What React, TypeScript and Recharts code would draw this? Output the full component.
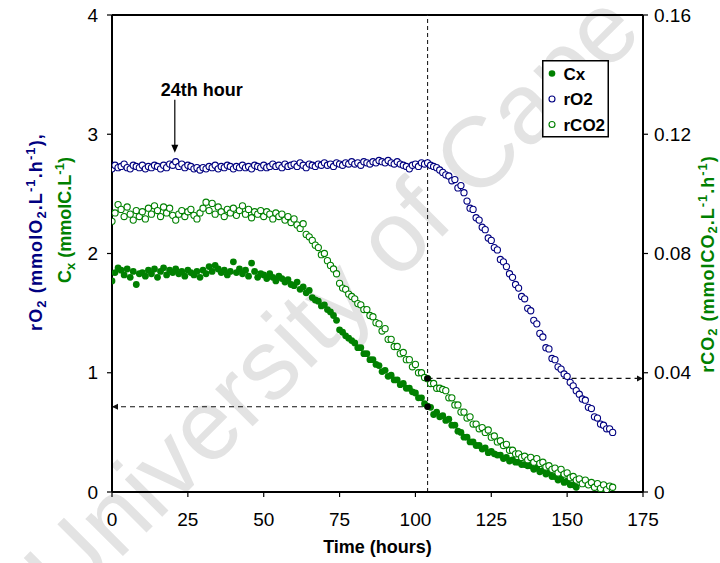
import React from 'react';
import { ScatterChart, Scatter, XAxis, YAxis, ReferenceLine, ReferenceDot, Legend } from 'recharts';

const FONT = "'Liberation Sans', Arial, sans-serif";
const GREEN = '#008000';
const NAVY = '#000080';

// sampling times (hours)
const hours = [
  0, 1, 2, 3, 4, 5, 6, 7, 8, 9, 10, 11, 12, 13, 14, 15, 16, 17, 18, 19,
  20, 21, 22, 23, 24, 25, 26, 27, 28, 29, 30, 31, 32, 33, 34, 35, 36, 37, 38, 39,
  40, 41, 42, 43, 44, 45, 46, 47, 48, 49, 50, 51, 52, 53, 54, 55, 56, 57, 58, 59,
  60, 61, 62, 63, 64, 65, 66, 67, 68, 69, 70, 71, 72, 73, 74, 75, 76, 77, 78, 79,
  80, 81, 82, 83, 84, 85, 86, 87, 88, 89, 90, 91, 92, 93, 94, 95, 96, 97, 98, 99,
  100, 101, 102, 103, 104, 105, 106, 107, 108, 109, 110, 111, 112, 113, 114, 115, 116, 117, 118, 119,
  120, 121, 122, 123, 124, 125, 126, 127, 128, 129, 130, 131, 132, 133, 134, 135, 136, 137, 138, 139,
  140, 141, 142, 143, 144, 145, 146, 147, 148, 149, 150, 151, 152, 153, 154, 155, 156, 157, 158, 159,
  160, 161, 162, 163, 164, 165,
];

// rO2 (mmolO2.L-1.h-1), left axis
const rO2 = [
  2.71, 2.74, 2.72, 2.73, 2.75, 2.72, 2.71, 2.74, 2.73, 2.72,
  2.74, 2.71, 2.73, 2.72, 2.74, 2.73, 2.71, 2.74, 2.72, 2.75,
  2.74, 2.77, 2.73, 2.75, 2.72, 2.74, 2.73, 2.71, 2.72, 2.70,
  2.72, 2.71, 2.73, 2.72, 2.74, 2.71, 2.73, 2.72, 2.74, 2.73,
  2.71, 2.73, 2.72, 2.74, 2.72, 2.73, 2.71, 2.74, 2.73, 2.72,
  2.74, 2.72, 2.73, 2.75, 2.73, 2.74, 2.72, 2.75, 2.73, 2.74,
  2.75, 2.73, 2.76, 2.74, 2.72, 2.75, 2.74, 2.73, 2.75, 2.74,
  2.76, 2.74, 2.75, 2.73, 2.76, 2.75, 2.74, 2.76, 2.75, 2.77,
  2.75, 2.76, 2.74, 2.77, 2.76, 2.75, 2.77, 2.76, 2.78, 2.77,
  2.76, 2.78, 2.76, 2.75, 2.77, 2.75, 2.74, 2.73, 2.71, 2.74,
  2.75, 2.73, 2.76, 2.75, 2.76, 2.74, 2.73, 2.72, 2.70, 2.68,
  2.66, 2.65, 2.61, 2.62, 2.55, 2.57, 2.51, 2.44, 2.38, 2.37,
  2.30, 2.28, 2.22, 2.20, 2.13, 2.11, 2.05, 2.03, 1.95, 1.93,
  1.89, 1.83, 1.80, 1.74, 1.71, 1.64, 1.62, 1.54, 1.52, 1.44,
  1.41, 1.33, 1.30, 1.21, 1.20, 1.12, 1.11, 1.05, 1.03, 0.99,
  0.97, 0.92, 0.89, 0.85, 0.82, 0.78, 0.77, 0.71, 0.70, 0.63,
  0.62, 0.57, 0.56, 0.53, 0.53, 0.50,
];

// Cx (mmolC.L-1), left axis, hours 0..153
const cx = [
  1.77, 1.84, 1.88, 1.86, 1.82, 1.87, 1.80, 1.85, 1.74, 1.83,
  1.84, 1.81, 1.86, 1.83, 1.87, 1.80, 1.85, 1.88, 1.82, 1.86,
  1.84, 1.87, 1.83, 1.85, 1.81, 1.86, 1.84, 1.82, 1.85, 1.80,
  1.86, 1.83, 1.89, 1.85, 1.90, 1.87, 1.84, 1.86, 1.82, 1.85,
  1.93, 1.84, 1.87, 1.83, 1.86, 1.81, 1.92, 1.85, 1.80, 1.83,
  1.82, 1.79, 1.83, 1.80, 1.77, 1.81, 1.79, 1.76, 1.78, 1.74,
  1.73, 1.76, 1.70, 1.72, 1.67, 1.69, 1.63, 1.61, 1.60, 1.56,
  1.57, 1.53, 1.51, 1.48, 1.44, 1.36, 1.34, 1.31, 1.29, 1.27,
  1.25, 1.21, 1.21, 1.16, 1.16, 1.11, 1.11, 1.07, 1.06, 1.01,
  1.02, 0.97, 0.98, 0.94, 0.94, 0.90, 0.91, 0.87, 0.87, 0.84,
  0.83, 0.79, 0.79, 0.74, 0.72, 0.71, 0.65, 0.67, 0.63, 0.64,
  0.60, 0.61, 0.56, 0.56, 0.51, 0.50, 0.46, 0.46, 0.42, 0.42,
  0.39, 0.39, 0.36, 0.37, 0.33, 0.34, 0.32, 0.31, 0.31, 0.28,
  0.29, 0.26, 0.27, 0.25, 0.25, 0.23, 0.23, 0.22, 0.22, 0.19,
  0.20, 0.17, 0.18, 0.15, 0.16, 0.13, 0.13, 0.10, 0.11, 0.08,
  0.09, 0.06, 0.06, 0.04,
];

// rCO2 (mmolCO2.L-1.h-1), right axis
const rCO2 = [
  0.0908, 0.0936, 0.0964, 0.0948, 0.0924, 0.0956, 0.0932, 0.0912, 0.0944, 0.0924,
  0.0940, 0.0916, 0.0952, 0.0932, 0.0960, 0.0944, 0.0924, 0.0956, 0.0936, 0.0952,
  0.0928, 0.0912, 0.0932, 0.0944, 0.0924, 0.0940, 0.0948, 0.0928, 0.0916, 0.0936,
  0.0952, 0.0972, 0.0944, 0.0968, 0.0932, 0.0956, 0.0940, 0.0924, 0.0948, 0.0936,
  0.0952, 0.0928, 0.0944, 0.0960, 0.0932, 0.0948, 0.0920, 0.0940, 0.0932, 0.0944,
  0.0924, 0.0940, 0.0932, 0.0916, 0.0936, 0.0924, 0.0932, 0.0912, 0.0924, 0.0904,
  0.0916, 0.0896, 0.0884, 0.0900, 0.0864, 0.0856, 0.0844, 0.0828, 0.0820, 0.0796,
  0.0800, 0.0776, 0.0760, 0.0748, 0.0732, 0.0700, 0.0684, 0.0680, 0.0664, 0.0656,
  0.0648, 0.0632, 0.0628, 0.0612, 0.0612, 0.0592, 0.0588, 0.0568, 0.0564, 0.0540,
  0.0548, 0.0512, 0.0512, 0.0488, 0.0488, 0.0464, 0.0468, 0.0444, 0.0444, 0.0420,
  0.0428, 0.0400, 0.0400, 0.0384, 0.0380, 0.0364, 0.0364, 0.0348, 0.0348, 0.0344,
  0.0340, 0.0316, 0.0316, 0.0292, 0.0292, 0.0268, 0.0268, 0.0248, 0.0252, 0.0228,
  0.0228, 0.0212, 0.0216, 0.0200, 0.0208, 0.0184, 0.0188, 0.0168, 0.0172, 0.0156,
  0.0160, 0.0140, 0.0140, 0.0128, 0.0128, 0.0116, 0.0120, 0.0108, 0.0116, 0.0100,
  0.0112, 0.0096, 0.0100, 0.0084, 0.0088, 0.0076, 0.0080, 0.0064, 0.0076, 0.0060,
  0.0064, 0.0048, 0.0052, 0.0040, 0.0044, 0.0028, 0.0040, 0.0024, 0.0032, 0.0016,
  0.0028, 0.0012, 0.0024, 0.0008, 0.0020, 0.0016,
];

const xTicks = [0, 25, 50, 75, 100, 125, 150, 175];
const leftTicks = [0, 1, 2, 3, 4];
const rightTicks = [0, 0.04, 0.08, 0.12, 0.16];

// annotation values
const markHour = 104;
const cxAtMark = 0.715;
const rco2AtMark = 0.0381;
const arrowHour = 20.7;
const arrowTop = 3.29;
const arrowBottom = 2.845;

const legendItems = [
  { name: 'Cx', color: GREEN, filled: true },
  { name: 'rO2', color: NAVY, filled: false },
  { name: 'rCO2', color: GREEN, filled: false },
];

const cxData = cx.map((v, i) => ({ x: hours[i], y: v }));
const rO2Data = rO2.map((v, i) => ({ x: hours[i], y: v }));
const rCO2Data = rCO2.map((v, i) => ({ x: hours[i], y: v }));

const filledDot = (color: string) => (p: any) => (
  <circle cx={p.cx} cy={p.cy} r={3.4} fill={color} stroke="none" />
);
const openDot = (color: string) => (p: any) => (
  <circle cx={p.cx} cy={p.cy} r={3.1} fill="#fff" stroke={color} strokeWidth={1.1} />
);

const DashArrow = (dir: 'start' | 'end') => (p: any) => {
  const { x1, y1, x2, y2 } = p;
  const tipX = dir === 'start' ? Math.min(x1, x2) : Math.max(x1, x2);
  const s = dir === 'start' ? 1 : -1;
  return (
    <g>
      <line x1={x1} y1={y1} x2={x2} y2={y2} stroke="#111" strokeWidth={1.1} strokeDasharray="5 4" />
      <polygon
        points={`${tipX},${y1} ${tipX + s * 6},${y1 - 3} ${tipX + s * 6},${y1 + 3}`}
        fill="#111"
      />
    </g>
  );
};

const HourArrow = (p: any) => {
  const { x1, y1, x2, y2 } = p;
  const top = Math.min(y1, y2);
  const bot = Math.max(y1, y2);
  return (
    <g>
      <line x1={x1} y1={top} x2={x2} y2={bot - 6} stroke="#000" strokeWidth={1.2} />
      <polygon points={`${x1},${bot} ${x1 - 3.5},${bot - 8} ${x1 + 3.5},${bot - 8}`} fill="#000" />
      <text x={x1 - 14} y={top - 4} fontFamily={FONT} fontSize={18} fontWeight="bold" fill="#000">
        24th hour
      </text>
    </g>
  );
};

const LeftTitle = (props: any) => {
  const vb = props.viewBox || { x: 0, y: 15 };
  const ax = vb.x + 41.5;
  const ay = 232;
  const bx = vb.x + 71;
  const by = 220;
  return (
    <g fontFamily={FONT} fontWeight="bold" fontSize={18}>
      <text
        transform={`rotate(-90 ${ax} ${ay})`}
        x={ax}
        y={ay}
        textAnchor="middle"
        fill={NAVY}
        letterSpacing={1.1}
      >
        rO<tspan fontSize={13} dy={4}>2</tspan>
        <tspan dy={-4}> (mmolO</tspan>
        <tspan fontSize={13} dy={4}>2</tspan>
        <tspan dy={-4}>.L</tspan>
        <tspan fontSize={13} dy={-7}>-1</tspan>
        <tspan dy={7}>.h</tspan>
        <tspan fontSize={13} dy={-7}>-1</tspan>
        <tspan dy={7}>),</tspan>
      </text>
      <text transform={`rotate(-90 ${bx} ${by})`} x={bx} y={by} textAnchor="middle" fill={GREEN}>
        C<tspan fontSize={13} dy={4}>x</tspan>
        <tspan dy={-4}> (mmolC.L</tspan>
        <tspan fontSize={13} dy={-7}>-1</tspan>
        <tspan dy={7}>)</tspan>
      </text>
    </g>
  );
};

const RightTitle = (props: any) => {
  const vb = props.viewBox || { x: 643 };
  const ax = vb.x + 71;
  const ay = 264;
  return (
    <text
      transform={`rotate(-90 ${ax} ${ay})`}
      x={ax}
      y={ay}
      textAnchor="middle"
      fill={GREEN}
      fontFamily={FONT}
      fontWeight="bold"
      fontSize={18}
      letterSpacing={1}
    >
      rCO<tspan fontSize={13} dy={3}>2</tspan>
      <tspan dy={-3}> (mmolCO</tspan>
      <tspan fontSize={13} dy={3}>2</tspan>
      <tspan dy={-3}>.L</tspan>
      <tspan fontSize={13} dy={-7}>-1</tspan>
      <tspan dy={7}>.h</tspan>
      <tspan fontSize={13} dy={-7}>-1</tspan>
      <tspan dy={7}>)</tspan>
    </text>
  );
};

const BottomTitle = (props: any) => {
  const vb = props.viewBox || { x: 112, y: 492, width: 531 };
  return (
    <text
      x={vb.x + vb.width / 2}
      y={vb.y + 61}
      textAnchor="middle"
      fontFamily={FONT}
      fontWeight="bold"
      fontSize={18}
      fill="#000"
    >
      Time (hours)
    </text>
  );
};

const renderLegend = () => (
  <svg width={67} height={78} style={{ display: 'block' }}>
    <rect x={0.75} y={0.75} width={65.5} height={76} fill="#fff" stroke="#000" strokeWidth={1.5} />
    {legendItems.map((it, i) => {
      const cy = 13.5 + i * 25.5;
      return (
        <g key={it.name}>
          {it.filled ? (
            <circle cx={10} cy={cy} r={3.3} fill={it.color} />
          ) : (
            <circle cx={10} cy={cy} r={3} fill="#fff" stroke={it.color} strokeWidth={1.1} />
          )}
          <text x={21.5} y={cy + 6.2} fontFamily={FONT} fontWeight="bold" fontSize={17} fill="#000">
            {it.name}
          </text>
        </g>
      );
    })}
  </svg>
);

const tickStyle = { fill: '#000', fontSize: 19, fontFamily: FONT };

export default function App() {
  return (
    <div style={{ position: 'absolute', left: 0, top: 0, width: 720, height: 563, background: '#fff', overflow: 'hidden' }}>
      <svg
        width={720}
        height={563}
        style={{ position: 'absolute', left: 0, top: 0, zIndex: 0 }}
      >
        <text
          x={67}
          y={612}
          transform="rotate(-45 67 612)"
          fontFamily={FONT}
          fontSize={100}
          fill="#e3e3e3"
        >
          University of Cape Town
        </text>
      </svg>
      <div style={{ position: 'absolute', left: 0, top: 0, zIndex: 1 }}>
        <ScatterChart width={720} height={563} margin={{ top: 15, right: 0, bottom: 0, left: 0 }}>
          <XAxis
            type="number"
            dataKey="x"
            domain={[0, 175]}
            ticks={xTicks}
            interval={0}
            height={71}
            axisLine={{ stroke: '#000', strokeWidth: 2 }}
            tickLine={{ stroke: '#000', strokeWidth: 1.2 }}
            tickSize={5}
            tickMargin={16}
            tick={tickStyle}
            label={<BottomTitle />}
            allowDataOverflow
          />
          <YAxis
            yAxisId="left"
            type="number"
            dataKey="y"
            domain={[0, 4]}
            ticks={leftTicks}
            interval={0}
            width={112}
            axisLine={{ stroke: '#000', strokeWidth: 2 }}
            tickLine={{ stroke: '#000', strokeWidth: 1.2 }}
            tickSize={5}
            tickMargin={9}
            tick={tickStyle}
            label={<LeftTitle />}
            allowDataOverflow
          />
          <YAxis
            yAxisId="right"
            orientation="right"
            type="number"
            dataKey="y"
            domain={[0, 0.16]}
            ticks={rightTicks}
            interval={0}
            width={77}
            axisLine={{ stroke: '#000', strokeWidth: 2 }}
            tickLine={{ stroke: '#000', strokeWidth: 1.2 }}
            tickSize={5}
            tickMargin={6}
            tick={tickStyle}
            tickFormatter={(v: number) => (v === 0 ? '0' : v.toFixed(2))}
            label={<RightTitle />}
            allowDataOverflow
          />
          <ReferenceLine yAxisId="left" y={4} stroke="#000" strokeWidth={2} />
          <ReferenceLine
            yAxisId="left"
            x={markHour}
            stroke="#222"
            strokeWidth={1.1}
            strokeDasharray="4 3"
          />
          <Scatter
            name="Cx"
            yAxisId="left"
            data={cxData}
            dataKey="y"
            shape={filledDot(GREEN)}
            isAnimationActive={false}
          />
          <Scatter
            name="rO2"
            yAxisId="left"
            data={rO2Data}
            dataKey="y"
            shape={openDot(NAVY)}
            isAnimationActive={false}
          />
          <Scatter
            name="rCO2"
            yAxisId="right"
            data={rCO2Data}
            dataKey="y"
            shape={openDot(GREEN)}
            isAnimationActive={false}
          />
          <ReferenceLine
            yAxisId="left"
            segment={[
              { x: 0, y: cxAtMark },
              { x: markHour, y: cxAtMark },
            ]}
            shape={DashArrow('start')}
          />
          <ReferenceLine
            yAxisId="right"
            segment={[
              { x: markHour, y: rco2AtMark },
              { x: 175, y: rco2AtMark },
            ]}
            shape={DashArrow('end')}
          />
          <ReferenceDot yAxisId="left" x={markHour} y={cxAtMark} r={3.2} fill="#000" stroke="none" />
          <ReferenceDot yAxisId="right" x={markHour} y={rco2AtMark} r={3.2} fill="#000" stroke="none" />
          <ReferenceLine
            yAxisId="left"
            segment={[
              { x: arrowHour, y: arrowTop },
              { x: arrowHour, y: arrowBottom },
            ]}
            shape={HourArrow}
          />
          <Legend
            layout="horizontal"
            verticalAlign="middle"
            align="center"
            content={renderLegend}
            wrapperStyle={{ position: 'absolute', left: 542, top: 60, width: 67, height: 78 }}
          />
        </ScatterChart>
      </div>
    </div>
  );
}
